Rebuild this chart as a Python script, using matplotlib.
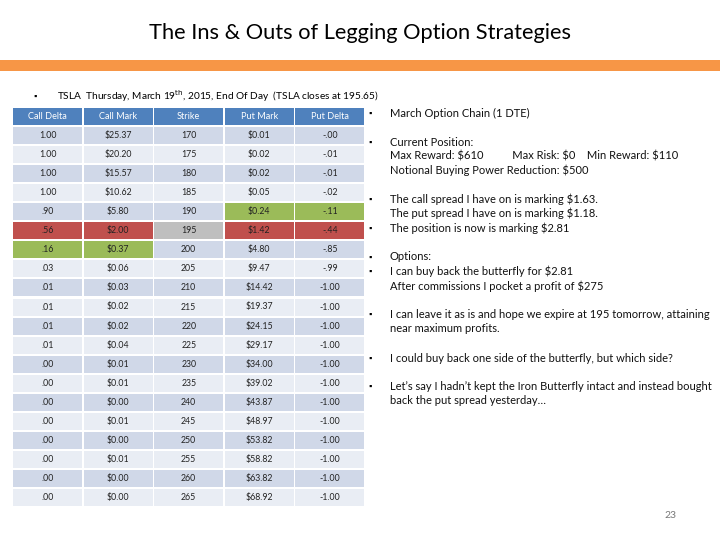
import matplotlib.pyplot as plt
from matplotlib.patches import Rectangle

plt.rcParams['font.family'] = ['Lato', 'DejaVu Sans']

# option chain (TSLA, March 19th 2015, 1 DTE)
headers = ['Call Delta', 'Call Mark', 'Strike', 'Put Mark', 'Put Delta']
call_delta = ['1.00', '1.00', '1.00', '1.00', '.90', '.56', '.16', '.03', '.01', '.01',
              '.01', '.01', '.00', '.00', '.00', '.00', '.00', '.00', '.00', '.00']
call_mark = ['$25.37', '$20.20', '$15.57', '$10.62', '$5.80', '$2.00', '$0.37', '$0.06',
             '$0.03', '$0.02', '$0.02', '$0.04', '$0.01', '$0.01', '$0.00', '$0.01',
             '$0.00', '$0.01', '$0.00', '$0.00']
strikes = [170, 175, 180, 185, 190, 195, 200, 205, 210, 215,
           220, 225, 230, 235, 240, 245, 250, 255, 260, 265]
put_mark = ['$0.01', '$0.02', '$0.02', '$0.05', '$0.24', '$1.42', '$4.80', '$9.47',
            '$14.42', '$19.37', '$24.15', '$29.17', '$34.00', '$39.02', '$43.87',
            '$48.97', '$53.82', '$58.82', '$63.82', '$68.92']
put_delta = ['-.00', '-.01', '-.01', '-.02', '-.11', '-.44', '-.85', '-.99', '-1.00', '-1.00',
             '-1.00', '-1.00', '-1.00', '-1.00', '-1.00', '-1.00', '-1.00', '-1.00', '-1.00', '-1.00']

# highlighted cells: (row index, column index)
short_legs = [(5, 0), (5, 1), (5, 3), (5, 4)]
long_calls = [(6, 0), (6, 1)]
long_puts = [(4, 3), (4, 4)]
atm_strike = [(5, 2)]

notes = [
    (113, True, 'March Option Chain (1 DTE)'),
    (142, True, 'Current Position:'),
    (156, False, 'Max Reward: $610          Max Risk: $0    Min Reward: $110'),
    (170, False, 'Notional Buying Power Reduction: $500'),
    (199, True, 'The call spread I have on is marking $1.63.'),
    (213, False, 'The put spread I have on is marking $1.18.'),
    (228, True, 'The position is now is marking $2.81'),
    (257, True, 'Options:'),
    (271, True, 'I can buy back the butterfly for $2.81'),
    (286, False, 'After commissions I pocket a profit of $275'),
    (314, True, 'I can leave it as is and hope we expire at 195 tomorrow, attaining'),
    (329, False, 'near maximum profits.'),
    (358, True, 'I could buy back one side of the butterfly, but which side?'),
    (386, True, 'Let\u2019s say I hadn\u2019t kept the Iron Butterfly intact and instead bought'),
    (401, False, 'back the put spread yesterday\u2026'),
]

BLUE = '#4F81BD'
DARK_ROW = '#D0D8E8'
LIGHT_ROW = '#E9EDF4'
RED = '#C0504D'
GREEN = '#9BBB59'
GRAY = '#BFBFBF'

fig = plt.figure(figsize=(7.2, 5.4), dpi=100)
ax = fig.add_axes([0, 0, 1, 1])
ax.set_xlim(0, 720)
ax.set_ylim(540, 0)
ax.axis('off')

# title + orange bar
ax.text(360, 33, 'The Ins & Outs of Legging Option Strategies', ha='center', va='center',
        fontsize=15.7, color='black')
ax.add_patch(Rectangle((0, 60), 720, 11, color='#F79646', lw=0))

ax.text(35, 96, '\u25aa', ha='center', va='center', fontsize=6)
ax.text(57, 96, 'TSLA  Thursday, March 19$^{\\mathrm{th}}$, 2015, End Of Day  (TSLA closes at 195.65)',
        ha='left', va='center', fontsize=7.3)

# table
x0, y0 = 13, 108
col_w, col_gap = 69, 1.6
row_h, row_gap = 17, 2.05
columns = [call_delta, call_mark, [str(s) for s in strikes], put_mark, put_delta]

colors = {}
for cell in short_legs:
    colors[cell] = RED
for cell in long_calls + long_puts:
    colors[cell] = GREEN
for cell in atm_strike:
    colors[cell] = GRAY

for j, h in enumerate(headers):
    x = x0 + j * (col_w + col_gap)
    ax.add_patch(Rectangle((x, y0), col_w, row_h, color=BLUE, lw=0))
    ax.text(x + col_w / 2, y0 + row_h / 2, h, ha='center', va='center',
            fontsize=6.6, color='white')

for i in range(len(strikes)):
    y = y0 + (i + 1) * (row_h + row_gap)
    base = DARK_ROW if i % 2 == 0 else LIGHT_ROW
    for j, col in enumerate(columns):
        x = x0 + j * (col_w + col_gap)
        ax.add_patch(Rectangle((x, y), col_w, row_h, color=colors.get((i, j), base), lw=0))
        ax.text(x + col_w / 2, y + row_h / 2, col[i], ha='center', va='center',
                fontsize=6.3, color='#222222')

# notes on the right
for y, bullet, line in notes:
    if bullet:
        ax.text(370, y, '\u25aa', ha='center', va='center', fontsize=6)
    ax.text(390, y, line, ha='left', va='center', fontsize=8, color='#111111')

ax.text(670, 515, '23', ha='center', va='center', fontsize=7.5, color='#777777')

fig.savefig('out.png', dpi=100)
